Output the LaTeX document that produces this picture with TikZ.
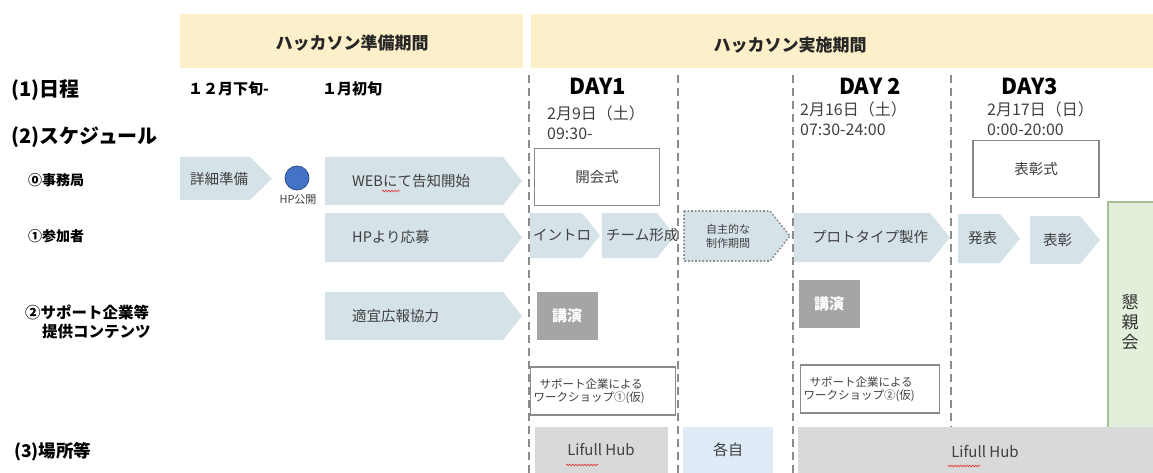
\documentclass[tikz,border=0pt]{standalone}
\usepackage{fontspec}
\setmainfont{Noto Sans CJK JP}
\usetikzlibrary{decorations.pathmorphing}
\definecolor{hdr}{HTML}{FCEFC9}
\definecolor{arr}{HTML}{D5E2E7}
\definecolor{txt}{HTML}{404040}
\definecolor{lect}{HTML}{A5A5A5}
\definecolor{place}{HTML}{D9D9D9}
\definecolor{own}{HTML}{DEEAF6}
\definecolor{party}{HTML}{E2EFDA}
\definecolor{partyb}{HTML}{A9BF94}
\definecolor{dashc}{HTML}{8C8C8C}
\definecolor{boxb}{HTML}{8A8A8A}
\definecolor{hpblue}{HTML}{4472C4}
\definecolor{wavy}{HTML}{E04040}
\newcommand{\chev}[8]{%
  \fill[arr] (#2,#3) -- ({#4-#6},#3) -- (#4,{(#3+#5)/2}) -- ({#4-#6},#5) -- (#2,#5) -- cycle;
  \node[albl] (#1) at (#7,{(#3+#5)/2}) {#8};
}
\begin{document}
\begin{tikzpicture}[x=1pt,y=-1pt,
  hdrtxt/.style={font=\fontsize{17}{19}\selectfont\bfseries, text=black!85, inner sep=0pt},
  bigl/.style={font=\fontsize{20}{22}\selectfont\bfseries, anchor=west, inner sep=0pt},
  rowl/.style={font=\fontsize{14}{16}\selectfont\bfseries, anchor=west, inner sep=0pt},
  suppl/.style={font=\fontsize{15.5}{17}\selectfont\bfseries, anchor=west, inner sep=0pt},
  datel/.style={font=\fontsize{15}{17}\selectfont\bfseries, anchor=west, inner sep=0pt},
  albl/.style={font=\fontsize{14.5}{16}\selectfont, text=txt, anchor=west, inner sep=0pt},
  daytxt/.style={font=\fontsize{22}{24}\selectfont\bfseries, inner sep=0pt},
  datetxt/.style={font=\fontsize{16}{18}\selectfont, text=txt, anchor=west, inner sep=0pt},
  sep/.style={dashc, line width=2pt, dash pattern=on 8pt off 5pt},
  wbox/.style={draw=boxb, line width=1.6pt, fill=white},
  lectbox/.style={fill=lect, text=white, font=\fontsize{15}{17}\selectfont\bfseries},
  wavyline/.style={wavy, line width=0.7pt, decorate, decoration={snake, amplitude=0.8pt, segment length=3pt}}
]
\useasboundingbox (0,0) rectangle (1153,473);

% header bands
\fill[hdr] (180,14) rectangle (523,68);
\fill[hdr] (531,14) rectangle (1153,68);
\node[hdrtxt] (h1) at (352,43) {ハッカソン準備期間};
\node[hdrtxt] (h2) at (790,45) {ハッカソン実施期間};

% dashed separators
\draw[sep] (529,75) -- (529,473);
\draw[sep] (678,75) -- (678,473);
\draw[sep] (793,75) -- (793,473);
\draw[sep] (951,75) -- (951,427);

% left labels
\node[bigl] (l1) at (11,90) {(1)日程};
\node[bigl] (l2) at (11,137) {(2)スケジュール};
\node[rowl] (l20) at (28,180) {⓪事務局};
\node[rowl] (l21) at (28,236) {①参加者};
\node[suppl] (l22a) at (25,312) {②サポート企業等};
\node[suppl] (l22b) at (42,332) {提供コンテンツ};
\node[font=\fontsize{17.5}{20}\selectfont\bfseries, anchor=west, inner sep=0pt] (l3) at (14,452) {(3)場所等};

% dates
\node[datel] (d1) at (188,89) {１２月下旬-};
\node[datel] (d2) at (322,89) {１月初旬};

\node[daytxt] (day1) at (598,86) {DAY1};
\node[datetxt] (day1a) at (547,113) {2月9日（土）};
\node[datetxt] (day1b) at (547,134) {09:30-};
\node[daytxt] (day2) at (870,86) {DAY 2};
\node[datetxt] (day2a) at (800,109) {2月16日（土）};
\node[datetxt] (day2b) at (800,130) {07:30-24:00};
\node[daytxt] (day3) at (1030,86) {DAY3};
\node[datetxt] (day3a) at (987,109) {2月17日（日）};
\node[datetxt] (day3b) at (987,130) {0:00-20:00};

% row 0 : office
\chev{prep}{180}{157}{272}{200}{22}{190}{詳細準備}
\fill[hpblue, draw=hpblue!70!black, line width=0.8pt] (297,178) circle (12);
\node[font=\fontsize{11}{13}\selectfont, text=txt, inner sep=0pt] (hp) at (298,200) {HP公開};
\chev{web}{325}{157}{522}{205}{19}{352}{WEBにて告知開始}
\draw[wavyline] (382,191) -- (400,191);
\node[wbox, minimum width=125pt, minimum height=57pt, font=\fontsize{14.5}{16}\selectfont, text=txt] (open) at (597,177) {開会式};
\node[wbox, minimum width=126pt, minimum height=57pt, font=\fontsize{14.5}{16}\selectfont, text=txt] (award) at (1036,169) {表彰式};

% row 1 : participants
\chev{apply}{325}{213}{522}{262}{19}{352}{HPより応募}
\chev{intro}{530}{213}{600}{258}{18}{533}{イントロ}
\chev{team}{602}{213}{675}{258}{18}{606}{チーム形成}
\draw[dashc, line width=1.6pt, dotted, fill=arr] (684,211) -- (770,211) -- (790,236) -- (770,261) -- (684,261) -- cycle;
\node[font=\fontsize{11}{14}\selectfont, text=txt, align=center, inner sep=0pt] (self) at (728,236) {自主的な\\制作期間};
\chev{proto}{794}{213}{950}{262}{20}{812}{プロトタイプ製作}
\chev{pres}{958}{214}{1020}{263}{20}{968}{発表}
\chev{prize}{1030}{216}{1100}{264}{20}{1043}{表彰}

% row 2 : support companies
\chev{pr}{325}{292}{522}{340}{19}{352}{適宜広報協力}
\node[lectbox, minimum width=61pt, minimum height=48pt] (lec1) at (567,316) {講演};
\node[lectbox, minimum width=61pt, minimum height=48pt] (lec2) at (829,304) {講演};
\node[wbox, minimum width=145pt, minimum height=48pt, font=\fontsize{11.5}{13}\selectfont, text=txt, align=left, text width=139pt, inner sep=2pt] (ws1) at (603,391) {\hspace*{6pt}サポート企業による\\ワークショップ①(仮)};
\node[wbox, minimum width=139pt, minimum height=48pt, font=\fontsize{11.5}{13}\selectfont, text=txt, align=left, text width=133pt, inner sep=2pt] (ws2) at (870,389) {\hspace*{6pt}サポート企業による\\ワークショップ②(仮)};

% party
\fill[party] (1108,202) rectangle (1153,428);
\draw[partyb, line width=1.2pt] (1153,202) -- (1108,202) -- (1108,428) -- (1153,428);
\node[font=\fontsize{17}{20}\selectfont, text=black!80, align=center, inner sep=0pt] (party) at (1130,322) {懇\\親\\会};

% row 3 : places
\node[fill=place, minimum width=133pt, minimum height=46pt, font=\fontsize{15}{17}\selectfont, text=txt] (hub1) at (601,450) {Lifull Hub};
\node[fill=own, minimum width=90pt, minimum height=46pt, font=\fontsize{15}{17}\selectfont, text=txt] (own) at (728,450) {各自};
\fill[place] (798,427) rectangle (1153,473);
\node[font=\fontsize{15}{17}\selectfont, text=txt, inner sep=0pt] (hub2) at (985,452) {Lifull Hub};
\draw[wavyline] (566,465) -- (598,465);
\draw[wavyline] (948,466) -- (980,466);
\end{tikzpicture}
\end{document}
